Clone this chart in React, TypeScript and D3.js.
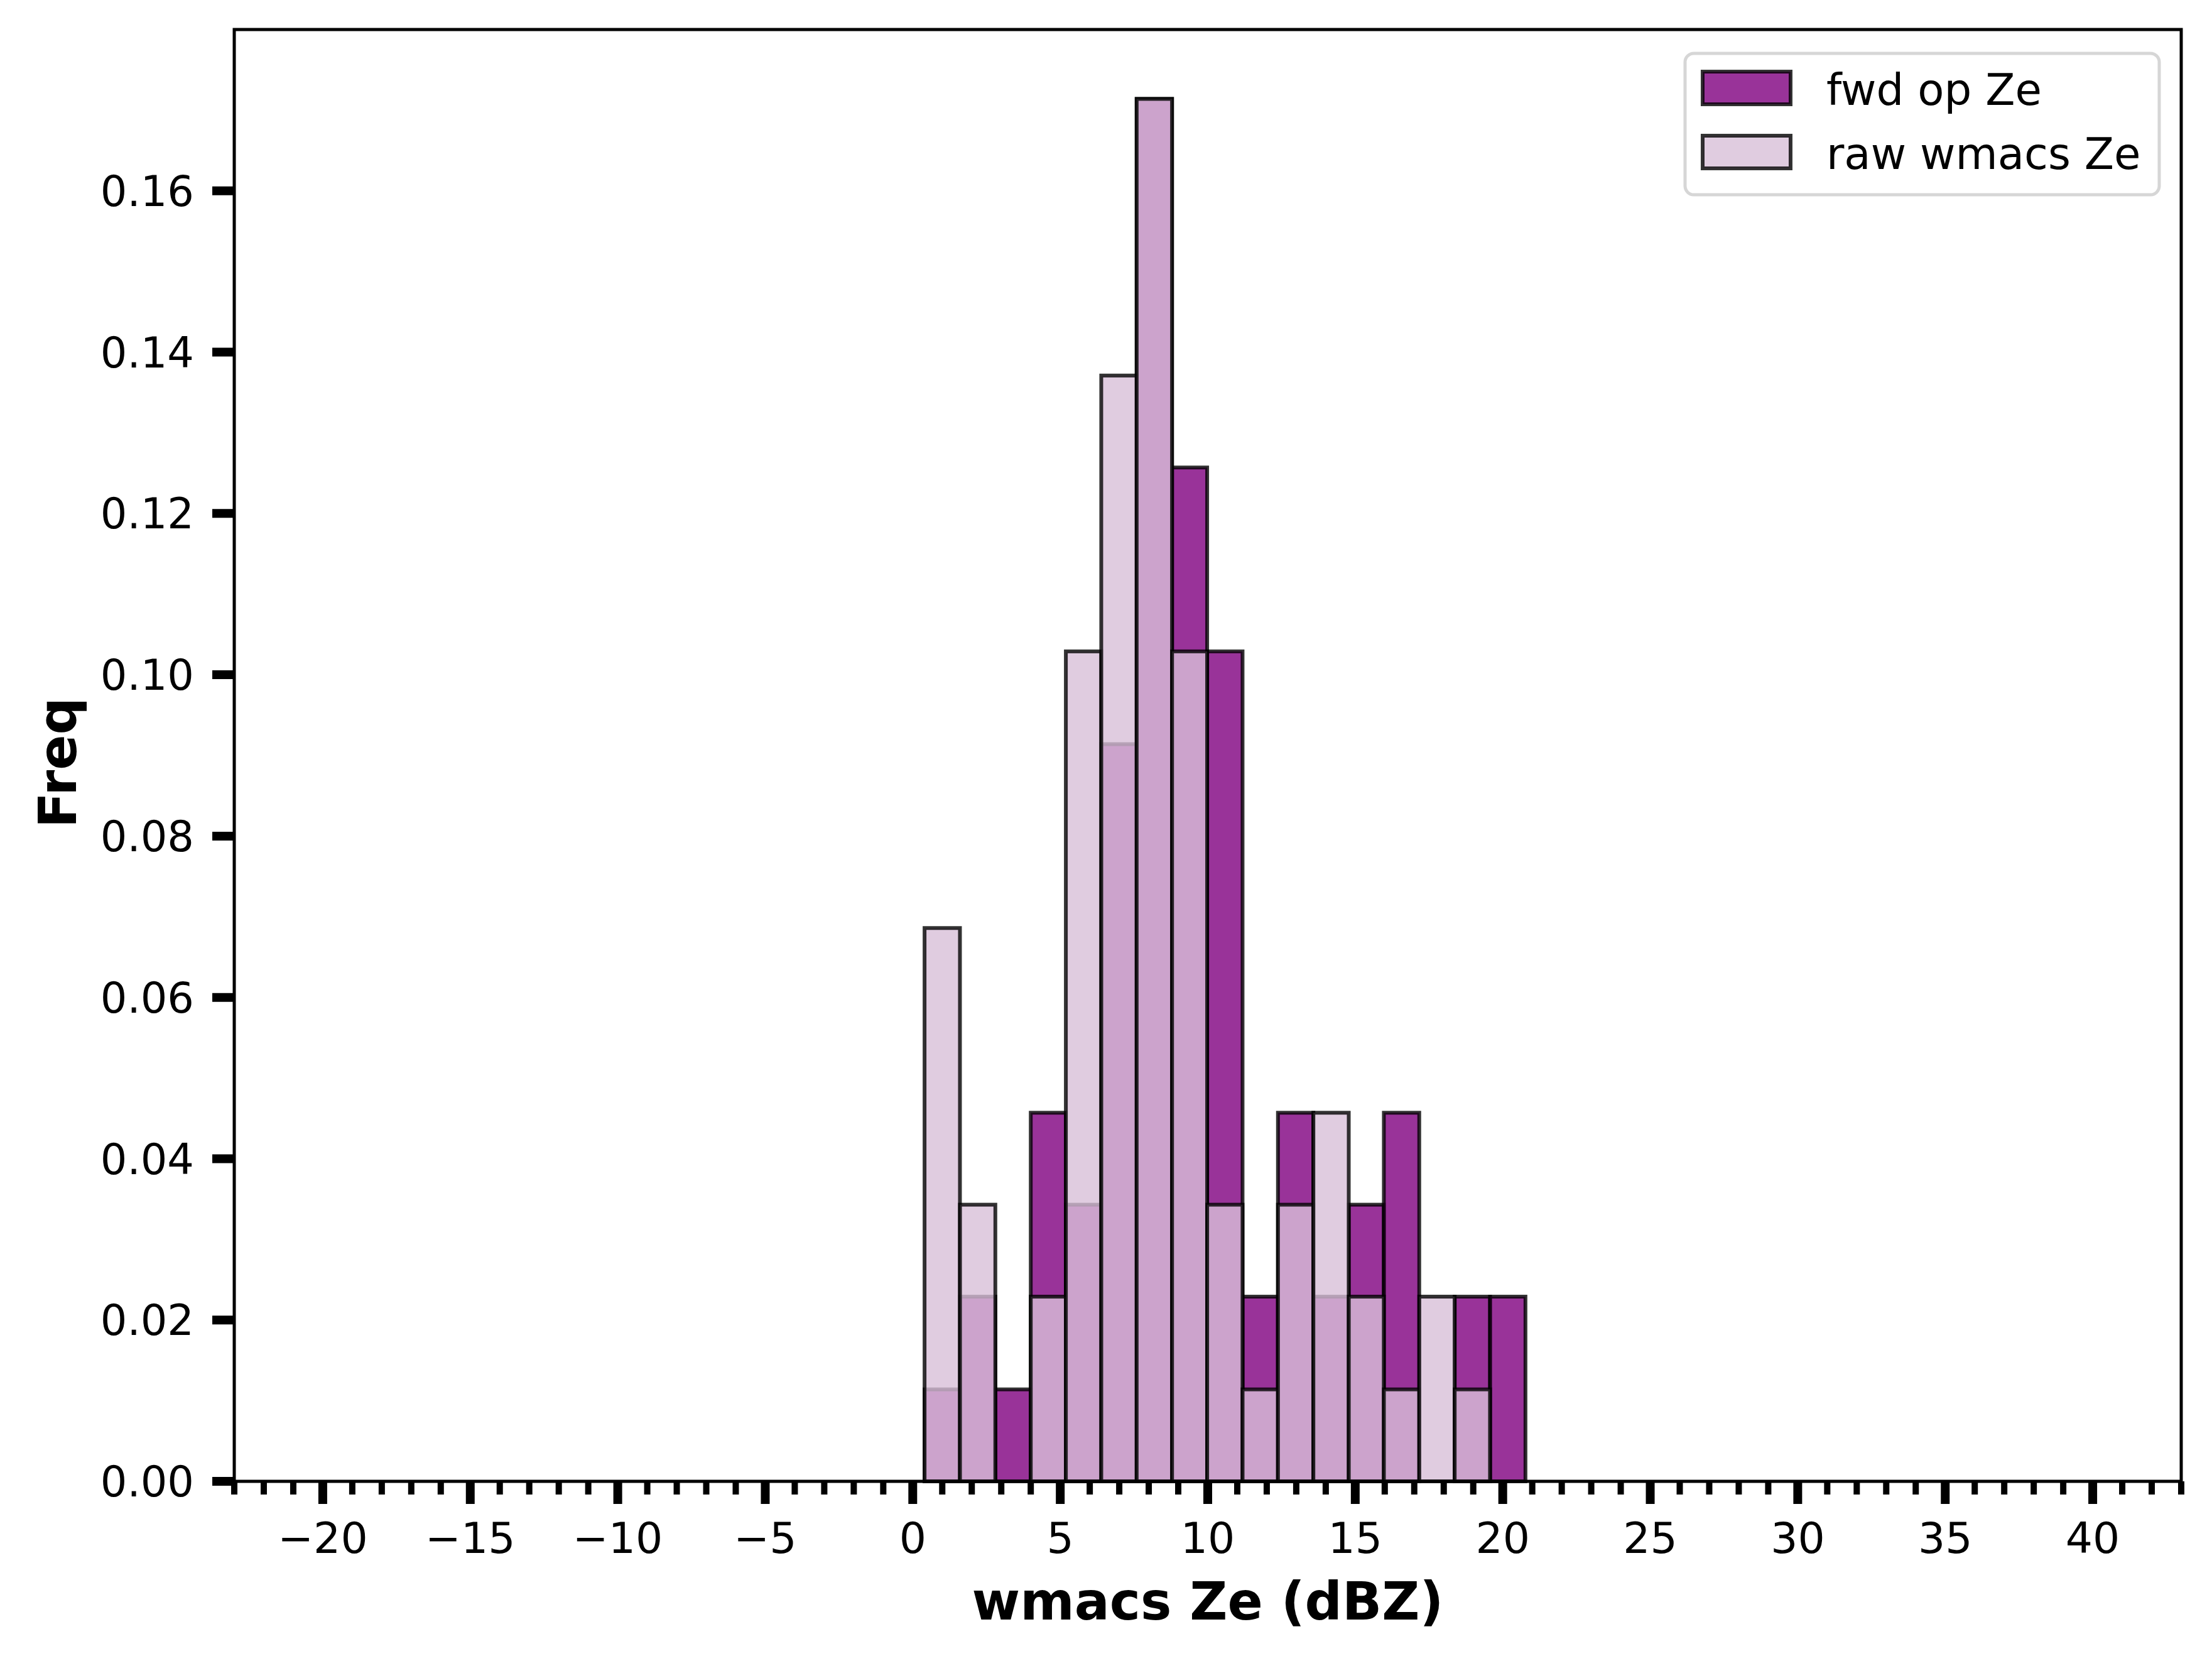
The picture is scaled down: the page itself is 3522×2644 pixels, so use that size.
import React from "react";
import * as d3 from "d3";

// ---- data ----
const binEdges = [0.40, 1.60, 2.80, 4.00, 5.19, 6.39, 7.59, 8.79, 9.98, 11.18, 12.38, 13.58, 14.78, 15.97, 17.17, 18.37, 19.57, 20.77];
const fwdFreq = [0.0114, 0.0229, 0.0114, 0.0457, 0.0343, 0.0914, 0.1714, 0.1257, 0.1029, 0.0229, 0.0457, 0.0229, 0.0343, 0.0457, 0, 0.0229, 0.0229];
const rawFreq = [0.0686, 0.0343, 0, 0.0229, 0.1029, 0.1371, 0.1714, 0.1029, 0.0343, 0.0114, 0.0343, 0.0457, 0.0229, 0.0114, 0.0229, 0.0114, 0];
const seriesNames = ["fwd op Ze", "raw wmacs Ze"];
const seriesColors = ["#800080", "#d8bfd8"];
const xMajorTicks = [-20, -15, -10, -5, 0, 5, 10, 15, 20, 25, 30, 35, 40];
const yTicks = [0, 0.02, 0.04, 0.06, 0.08, 0.1, 0.12, 0.14, 0.16];
const xDomain = [-23, 43];
const yDomain = [0, 0.18];
const xLabel = "wmacs Ze (dBZ)";
const yLabel = "Freq";

const W = 3522;
const H = 2644;
const M = { left: 373, right: 3473, top: 47, bottom: 2358 };
const FONT = "'DejaVu Sans', sans-serif";

export default function App() {
  const x = d3.scaleLinear().domain(xDomain).range([M.left, M.right]);
  const y = d3.scaleLinear().domain(yDomain).range([M.bottom, M.top]);
  const minorTicks = d3.range(xDomain[0], xDomain[1] + 1).filter((v) => v % 5 !== 0);
  const fmtY = d3.format(".2f");
  const fmtX = (v: number) => (v < 0 ? "\u2212" + Math.abs(v) : String(v));

  const bars = (vals: number[], color: string, key: string) =>
    vals.map((v, i) =>
      v > 0 ? (
        <rect
          key={key + i}
          x={x(binEdges[i])}
          y={y(v)}
          width={x(binEdges[i + 1]) - x(binEdges[i])}
          height={y(0) - y(v)}
          fill={color}
          fillOpacity={0.8}
          stroke="#000"
          strokeOpacity={0.8}
          strokeWidth={6}
        />
      ) : null
    );

  const legX = 2683, legY = 85, legW = 755, legH = 225;
  const rowYs = [140, 242];

  return (
    <svg
      width={W}
      height={H}
      style={{ position: "absolute", left: 0, top: 0, background: "#fff" }}
      fontFamily={FONT}
    >
      <rect x={0} y={0} width={W} height={H} fill="#fff" />
      {bars(fwdFreq, seriesColors[0], "f")}
      {bars(rawFreq, seriesColors[1], "r")}

      {/* spines */}
      <rect
        x={M.left}
        y={M.top}
        width={M.right - M.left}
        height={M.bottom - M.top}
        fill="none"
        stroke="#000"
        strokeWidth={5}
      />

      {/* x minor ticks */}
      {minorTicks.map((v) => (
        <line key={"mn" + v} x1={x(v)} x2={x(v)} y1={M.bottom} y2={M.bottom + 21} stroke="#000" strokeWidth={10} />
      ))}
      {/* x major ticks */}
      {xMajorTicks.map((v) => (
        <g key={"mx" + v}>
          <line x1={x(v)} x2={x(v)} y1={M.bottom} y2={M.bottom + 36} stroke="#000" strokeWidth={14} />
          <text x={x(v)} y={2472} textAnchor="middle" fontSize={68} fill="#000">
            {fmtX(v)}
          </text>
        </g>
      ))}
      {/* y ticks */}
      {yTicks.map((v) => (
        <g key={"y" + v}>
          <line x1={M.left - 35} x2={M.left} y1={y(v)} y2={y(v)} stroke="#000" strokeWidth={14} />
          <text x={309} y={y(v)} dy="0.36em" textAnchor="end" fontSize={67} fill="#000">
            {fmtY(v)}
          </text>
        </g>
      ))}

      {/* axis labels */}
      <text x={(M.left + M.right) / 2} y={2578} textAnchor="middle" fontSize={83} fontWeight="bold" fill="#000">
        {xLabel}
      </text>
      <text
        transform={`translate(121, 1214) rotate(-90)`}
        textAnchor="middle"
        fontSize={83}
        fontWeight="bold"
        fill="#000"
      >
        {yLabel}
      </text>

      {/* legend */}
      <rect x={legX} y={legY} width={legW} height={legH} rx={14} fill="#fff" fillOpacity={0.8} stroke="#d6d6d6" strokeWidth={5} />
      {seriesNames.map((name, i) => (
        <g key={name}>
          <rect
            x={2711}
            y={rowYs[i] - 26}
            width={140}
            height={52}
            fill={seriesColors[i]}
            fillOpacity={0.8}
            stroke="#000"
            strokeOpacity={0.8}
            strokeWidth={6}
          />
          <text x={2908} y={rowYs[i] + 27} fontSize={69} fill="#000">
            {name}
          </text>
        </g>
      ))}
    </svg>
  );
}
